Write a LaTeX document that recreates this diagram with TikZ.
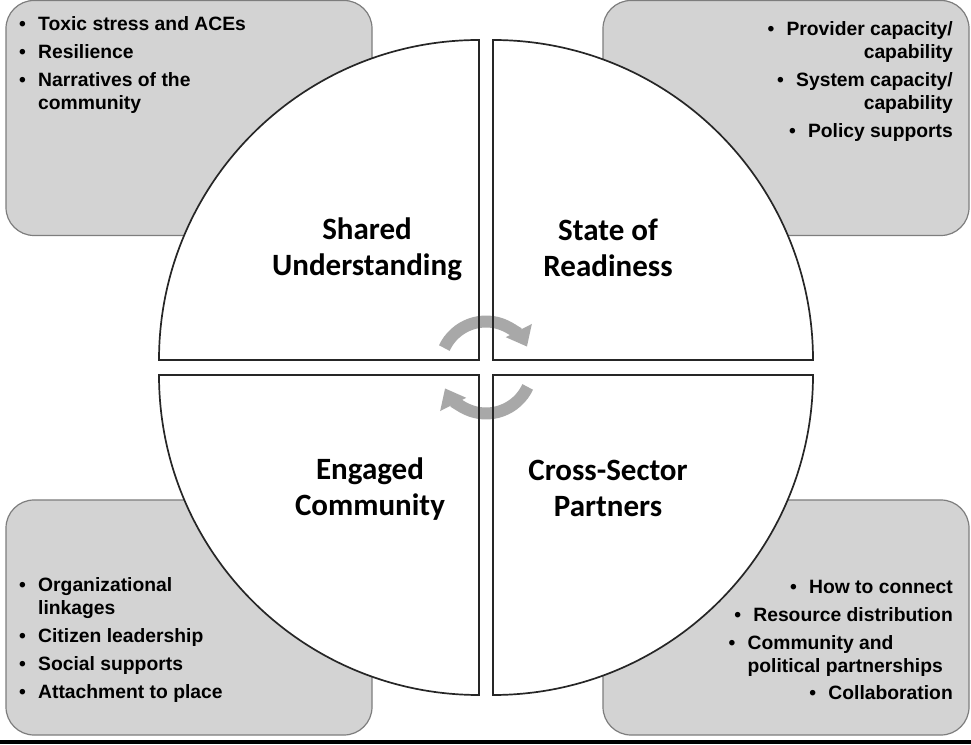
\documentclass[tikz,border=0pt]{standalone}
\usepackage{fontspec}
\setmainfont{Liberation Sans}
\newfontfamily\labelfont{Carlito}
\usetikzlibrary{arrows.meta}
\definecolor{boxgray}{RGB}{211,211,211}
\definecolor{boxline}{RGB}{125,125,125}
\definecolor{arrowgray}{RGB}{168,168,168}
\newcommand{\bul}{\makebox[19pt][l]{\textbullet}}
\begin{document}
\begin{tikzpicture}[x=1pt,y=1pt,
	infobox/.style={fill=boxgray, draw=boxline, line width=1.2pt, rounded corners=28pt, minimum width=366pt, minimum height=235pt, inner sep=0pt},
	quarterline/.style={draw=black!85, line width=1.7pt},
	turn/.style={draw=arrowgray, line width=12pt, -{Triangle[width=28pt,length=18pt]}},
	itemtext/.style={font=\fontsize{19.3}{23}\selectfont\bfseries, inner sep=0pt},
	sectorlabel/.style={font=\labelfont\bfseries\fontsize{31}{36}\selectfont, align=center, inner sep=0pt}]
	\useasboundingbox (0,0) rectangle (971,744);
	\fill (0,0) rectangle (971,4);
	% the four corner boxes
	\node[infobox] (tlbox) at (189,626) {};
	\node[infobox] (trbox) at (786,626) {};
	\node[infobox] (blbox) at (189,126.5) {};
	\node[infobox] (brbox) at (786,126.5) {};
	% quarters of the circle
	\foreach \cx/\cy/\a in {479/384/180, 493/384/90, 479/369/270, 493/369/0}
		\fill[white] (\cx,\cy) -- ++(\a:320) arc[start angle=\a, end angle=\a-90, radius=320] -- cycle;
	\draw[turn] (486,376.5) ++(155:46) arc[start angle=155, end angle=27, radius=46];
	\draw[turn] (486,376.5) ++(-25:46) arc[start angle=-25, end angle=-153, radius=46];
	\foreach \cx/\cy/\a in {479/384/180, 493/384/90, 479/369/270, 493/369/0}
		\draw[quarterline] (\cx,\cy) -- ++(\a:320) arc[start angle=\a, end angle=\a-90, radius=320] -- cycle;
	\node[sectorlabel] (shared) at (367,495) {Shared\\Understanding};
	\node[sectorlabel] (ready) at (608,496) {State of\\Readiness};
	\node[sectorlabel] (engaged) at (370,255) {Engaged\\Community};
	\node[sectorlabel] (partners) at (608,256) {Cross-Sector\\Partners};
	% lists, placed by the baseline of their last line
	\node[itemtext, anchor=base west, align=left] (sharedlist) at (19,634) {\bul Toxic stress and ACEs\\[5pt] \bul Resilience\\[5pt] \bul Narratives of the\\ \hspace*{19pt}community};
	\node[itemtext, anchor=base east, align=right] (readylist) at (953,606) {\bul Provider capacity/\\ capability\\[5pt] \bul System capacity/\\ capability\\[5pt] \bul Policy supports};
	\node[itemtext, anchor=base west, align=left] (engagedlist) at (19,46) {\bul Organizational\\ \hspace*{19pt}linkages\\[5pt] \bul Citizen leadership\\[5pt] \bul Social supports\\[5pt] \bul Attachment to place};
	\node[itemtext, anchor=base east, align=right] (partnerlist) at (953,45) {\bul How to connect\\[5pt] \bul Resource distribution\\[5pt] \bul\begin{tabular}[t]{@{}l@{}}Community and\\ political partnerships\end{tabular}\makebox[10pt]{}\\[5pt] \bul Collaboration};
\end{tikzpicture}
\end{document}
